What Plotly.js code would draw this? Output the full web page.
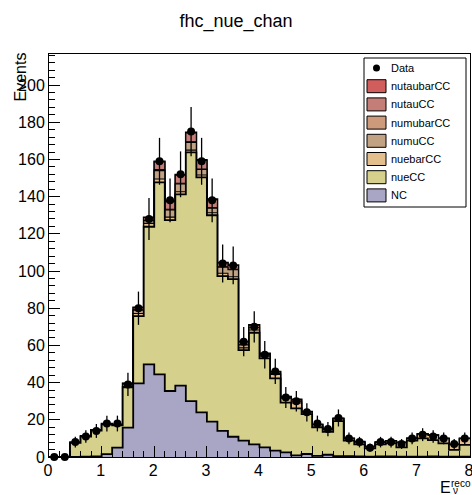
<!DOCTYPE html>
<html>
<head>
<meta charset="utf-8">
<script src="https://cdn.plot.ly/plotly-3.0.1.min.js"></script>
<style>html,body{margin:0;padding:0;background:#fff;}#chart{width:472px;height:495px;}</style>
</head>
<body>
<div id="chart"></div>
<script>
// ---- data (40 bins of width 0.2 from 0 to 8) ----
const binLow = 0, binWidth = 0.2, nBins = 40;
const dataCounts = [0,0,8,11,14,18,18,39,80,128,159,138,152,175,159,138,104,103,62,70,55,46,32,30,24,18,15,21,10,8,5,8,8,7,10,12,11,10,7,10];
const dataErr = [0,0,2.83,3.32,3.74,4.24,4.24,6.24,8.94,11.31,12.61,11.75,12.33,13.23,12.61,11.75,10.2,10.15,7.87,8.37,7.42,6.78,5.66,5.48,4.9,4.24,3.87,4.58,3.16,2.83,2.24,2.83,2.83,2.65,3.16,3.46,3.32,3.16,2.65,3.16];
const NC = [0,0,0,0.2,0.3,1.5,5,15.8,39.6,49.8,44.4,35.5,38.4,30,24,19,14,10.9,8.8,6.8,5.2,3.4,2.5,0.9,1.6,0.6,1.2,0.5,0.4,0.3,0.2,0.3,0.3,0.2,0.2,0.2,0.3,0.2,0.2,0.2];
const nueCC = [0,0,7.6,10.8,13.9,16.0,12.0,21.7,36.2,74.0,103.3,91.9,102.8,133.8,126.4,111,83.3,84.8,48.7,60,47.8,38.9,26.7,25.3,21.5,15.4,12.3,18.8,8.4,6.5,4.4,6.5,7.2,5.0,8.6,9.8,8.8,7.1,3.6,6.3];
const nuebarCC = [0,0,0.2,0.2,0.2,0.2,0.2,0.5,1.4,1.8,1.8,1.6,1.4,1.2,1.2,1.3,1.5,1.2,1.2,1.5,1.2,2.1,2.4,2.8,1.0,1.2,1.2,1.2,1.0,1.2,0.9,1.0,1.0,2.5,1.1,2.2,2.5,2.5,2.8,3.3];
const numuCC = [0,0,0.1,0.1,0.2,0.2,0.3,1.2,1.8,1.5,4.5,3.8,4.2,4.2,3.0,2.5,3.3,3.8,1.5,1.2,0.6,0.5,0.3,1.0,0.1,0.1,0.1,0.1,0.1,0.1,0.05,0.1,0.1,0.1,0.1,0.1,0.1,0.1,0.1,0.1];
const numubarCC = [0,0,0,0,0,0,0,0.1,0.2,0.2,0.5,0.4,0.4,0.3,0.3,0.2,0.2,0.2,0.1,0.1,0.1,0.1,0.1,0.1,0,0,0,0,0,0,0,0,0,0,0,0,0,0,0,0];
const nutauCC = [0,0,0,0,0,0,0,0.3,1.2,1.5,4.2,4.1,4.3,4.7,4.5,4.4,2.0,2.1,1.6,1.3,0.7,0.8,0.4,0.8,0.2,0.2,0.2,0.2,0.1,0.1,0.05,0.1,0,0.1,0,0.1,0.1,0.1,0.1,0.1];
const nutaubarCC = [0,0,0,0,0,0,0,0,0.1,0.1,0.3,0.3,0.3,0.4,0.3,0.3,0.2,0.2,0.1,0.1,0.1,0.1,0,0.1,0,0,0,0,0,0,0,0,0,0,0,0,0,0,0,0];

// stack order bottom -> top
const stackNames = ['NC','nueCC','nuebarCC','numuCC','numubarCC','nutauCC','nutaubarCC'];
const stackVals = [NC, nueCC, nuebarCC, numuCC, numubarCC, nutauCC, nutaubarCC];
const stackColors = ['#a9a6c5','#d5d08b','#e2bf8d','#c1a283','#cd9a7c','#c47e77','#d25d5d'];
const stackLineW = [1.8, 1.8, 1.1, 1.1, 1.1, 1.1, 1.8];

const legendNames = ['Data','nutaubarCC','nutauCC','numubarCC','numuCC','nuebarCC','nueCC','NC'];

// ---- build traces ----
const edges = [], centers = [];
for (let i = 0; i <= nBins; i++) edges.push(+(binLow + i*binWidth).toFixed(4));
for (let i = 0; i < nBins; i++) centers.push(+(binLow + (i+0.5)*binWidth).toFixed(4));

const cum = [];
let run = new Array(nBins).fill(0);
for (let k = 0; k < stackVals.length; k++) {
  run = run.map((v,i)=>v+stackVals[k][i]);
  cum.push(run.slice());
}
const traces = [];
for (let k = stackVals.length-1; k >= 0; k--) {
  const y = cum[k].concat([cum[k][nBins-1]]);
  traces.push({
    type:'scatter', mode:'lines', x: edges, y: y,
    line:{shape:'hv', color:'#000', width:stackLineW[k]},
    fill:'tozeroy', fillcolor: stackColors[k],
    hoverinfo:'skip', showlegend:false, name: stackNames[k]
  });
}
traces.push({
  type:'scatter', mode:'markers', x: centers, y: dataCounts, name:'Data',
  marker:{color:'#000', size:8},
  error_y:{type:'data', array:dataErr, visible:true, color:'#000', thickness:1.3, width:0},
  cliponaxis:false, showlegend:false
});

// ---- layout helpers (pixel -> paper) ----
const L = 49, R = 470, T = 54, B = 457;
const px = p => (p - L)/(R - L);
const py = p => (B - p)/(B - T);

const shapes = [], annotations = [];
shapes.push({type:'rect', xref:'paper', yref:'paper', x0:px(364), x1:px(466), y0:py(207), y1:py(58),
  line:{color:'#000', width:1}, fillcolor:'#fff', layer:'above'});
const colorByName = {};
stackNames.forEach((n,i)=>colorByName[n]=stackColors[i]);
legendNames.forEach((n,i)=>{
  const yc = 68 + 18.2*i;
  if (n === 'Data') {
    shapes.push({type:'circle', xref:'paper', yref:'paper', x0:px(373), x1:px(380), y0:py(yc+3.5), y1:py(yc-3.5),
      line:{color:'#000', width:0}, fillcolor:'#000', layer:'above'});
  } else {
    shapes.push({type:'rect', xref:'paper', yref:'paper', x0:px(367), x1:px(386), y0:py(yc+6.5), y1:py(yc-6.5),
      line:{color:'#000', width:1}, fillcolor:colorByName[n], layer:'above'});
  }
  annotations.push({xref:'paper', yref:'paper', x:px(389), y:py(yc), xanchor:'left', yanchor:'middle',
    text:n, showarrow:false, font:{family:'Liberation Sans, Arial, sans-serif', size:11, color:'#000'}});
});
// y title
annotations.push({xref:'paper', yref:'paper', x:px(20), y:py(51), xanchor:'center', yanchor:'top', textangle:-90,
  text:'Events', showarrow:false, font:{family:'Liberation Sans, Arial, sans-serif', size:16, color:'#000'}});
// x title  E_nu^reco
annotations.push({xref:'paper', yref:'paper', x:px(445), y:py(487), xanchor:'center', yanchor:'middle',
  text:'E', showarrow:false, borderpad:0, font:{family:'Liberation Sans, Arial, sans-serif', size:16, color:'#000'}});
annotations.push({xref:'paper', yref:'paper', x:px(461), y:py(483.5), xanchor:'center', yanchor:'middle',
  text:'reco', showarrow:false, borderpad:0, font:{family:'Liberation Sans, Arial, sans-serif', size:10, color:'#000'}});
annotations.push({xref:'paper', yref:'paper', x:px(455.5), y:py(491), xanchor:'center', yanchor:'middle',
  text:'ν', showarrow:false, borderpad:0, font:{family:'Liberation Sans, Arial, sans-serif', size:10, color:'#000'}});

const tickFont = {family:'Liberation Sans, Arial, sans-serif', size:16, color:'#000'};
const layout = {
  width:472, height:495,
  margin:{l:L, r:472-R, t:T, b:495-B, pad:0},
  paper_bgcolor:'#fff', plot_bgcolor:'#fff',
  showlegend:false,
  title:{text:'fhc_nue_chan', x:0.5, xref:'container', y:1-21/495, yref:'container', yanchor:'middle',
    font:{family:'Liberation Sans, Arial, sans-serif', size:18, color:'#000'}},
  xaxis:{range:[0,8], dtick:1, tick0:0, ticks:'inside', ticklen:11, tickcolor:'#000', tickwidth:1,
    showline:true, linecolor:'#000', linewidth:1, mirror:true, showgrid:false, zeroline:false,
    ticklabeloverflow:'allow', ticklabelshift:-1, ticklabelstandoff:-1,
    tickfont:tickFont, minor:{dtick:0.2, ticks:'inside', ticklen:6, tickcolor:'#000', showgrid:false}},
  yaxis:{range:[0,216.7], dtick:20, tick0:0, ticks:'inside', ticklen:11, tickcolor:'#000', tickwidth:1,
    showline:true, linecolor:'#000', linewidth:1, mirror:true, showgrid:false, zeroline:false,
    tickfont:tickFont, minor:{dtick:4, ticks:'inside', ticklen:6, tickcolor:'#000', showgrid:false}},
  shapes:shapes, annotations:annotations
};
Plotly.newPlot('chart', traces, layout, {staticPlot:true, displayModeBar:false});
</script>
</body>
</html>
